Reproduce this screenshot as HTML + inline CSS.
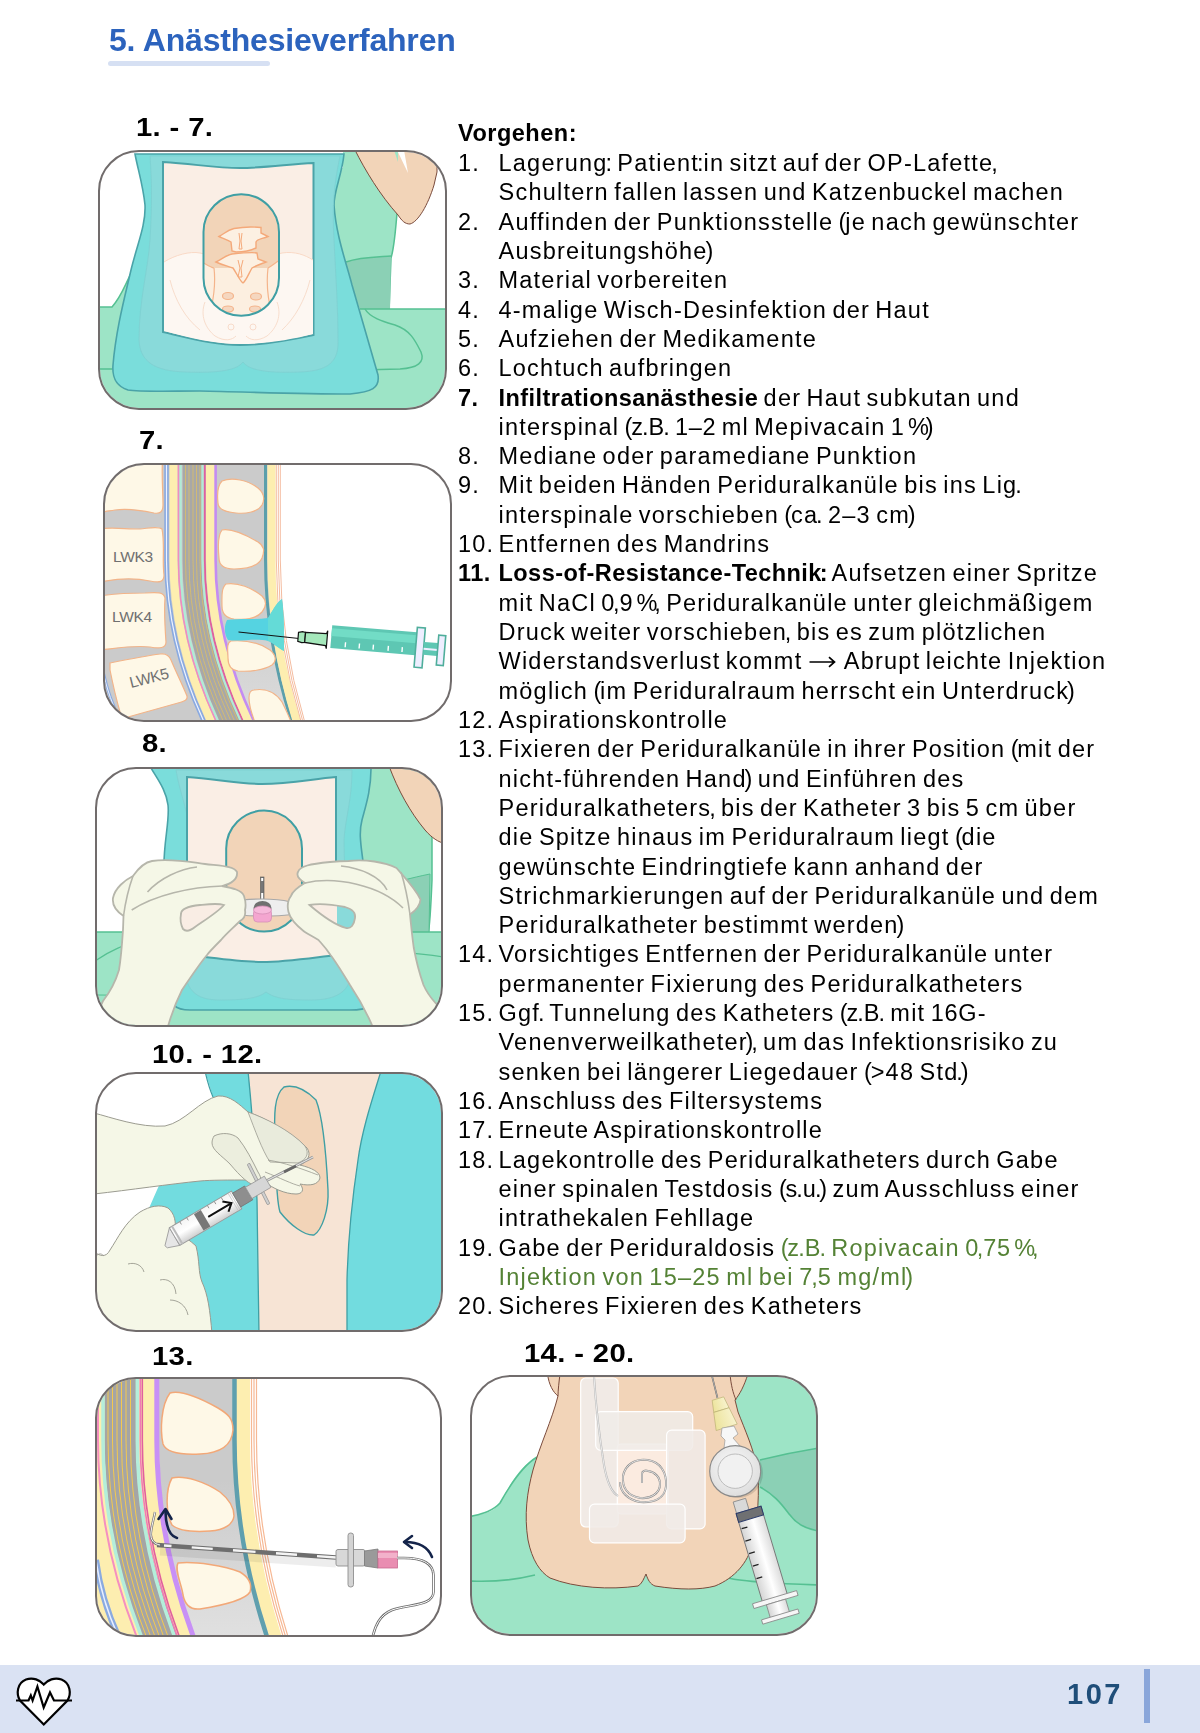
<!DOCTYPE html>
<html><head><meta charset="utf-8">
<style>
html,body{margin:0;padding:0;background:#fff;}
body{width:1200px;height:1733px;position:relative;overflow:hidden;font-family:"Liberation Sans",sans-serif;color:#000;-webkit-font-smoothing:antialiased;}
#txt,#vg,.cap,.h1,.pn{will-change:transform;}
.h1{position:absolute;left:109px;top:22px;font-size:32px;font-weight:bold;color:#2c63bd;white-space:nowrap;letter-spacing:-0.2px;}
.h1bar{position:absolute;left:108px;top:61px;width:162px;height:4.5px;border-radius:3px;background:#d6e0f3;}
.cap{position:absolute;font-weight:bold;font-size:25px;white-space:nowrap;letter-spacing:0.3px;word-spacing:0px;margin-top:1px;transform:scaleX(1.17);transform-origin:0 0;}
.frame{position:absolute;border:2px solid #6b6b6b;border-radius:40px;overflow:hidden;box-sizing:border-box;background:#fff;}
.frame svg{position:absolute;left:0;top:0;}
#txt{position:absolute;left:458px;top:149px;font-size:23.5px;line-height:29.32px;letter-spacing:1.23px;word-spacing:-2.43px;white-space:nowrap;}
#txt .q{letter-spacing:0px;margin-left:-2.2px;}
#txt .qo{letter-spacing:-1.2px;}
#txt .n .q{letter-spacing:1.23px;margin-left:0;}
#txt b{letter-spacing:0.45px;}
.pc{letter-spacing:-1px;margin-left:-2px;}
.dg{letter-spacing:0.7px;}
#txt .r{position:relative;padding-left:40.5px;}
#txt .n{position:absolute;left:0;top:0;}
.g{color:#548235;}
#vg{position:absolute;left:458px;top:119.5px;font-size:23.5px;font-weight:bold;letter-spacing:0.5px;}
.foot{position:absolute;left:0;top:1665px;width:1200px;height:67.5px;background:#dae2f3;}
.pn{position:absolute;left:1067px;top:1678px;font-size:29px;font-weight:bold;color:#1f4e79;letter-spacing:2.5px;}
.vbar{position:absolute;left:1144px;top:1669px;width:6px;height:54px;background:#8aa6da;}
</style></head><body>
<div class="h1">5. Anästhesieverfahren</div>
<div class="h1bar"></div>

<div class="cap" style="left:136px;top:112px">1. - 7.</div>
<div class="cap" style="left:139px;top:425px">7.</div>
<div class="cap" style="left:142px;top:728px">8.</div>
<div class="cap" style="left:152px;top:1039px">10. - 12.</div>
<div class="cap" style="left:152px;top:1341px">13.</div>
<div class="cap" style="left:524px;top:1338px">14. - 20.</div>

<!-- FRAMES -->
<svg style="position:absolute;left:97px;top:149px" width="351" height="262" viewBox="97 149 351 262">
<defs><clipPath id="cA"><rect x="100" y="152" width="345" height="256" rx="39"/></clipPath></defs>
<g clip-path="url(#cA)">
<rect x="97" y="149" width="351" height="262" fill="#fff"/>
<!-- green body right -->
<path d="M343,150 L398,150 L398,200 C396,225 395,245 391,258 L389,312 L325,312 L325,170 L343,168 Z" fill="#9de4c6"/>
<path d="M398,150 L398,200 C396,225 395,245 391,258 L389,312" fill="none" stroke="#55c092" stroke-width="1.5"/>
<path d="M346,262 C360,257 378,257 391,256 L390,312 L350,312 Z" fill="#8bd0b5"/>
<path d="M346,262 C360,257 378,257 391,256" fill="none" stroke="#55c092" stroke-width="1.5"/>
<!-- green table / lower -->
<path d="M97,307 L112,307 C122,296 126,282 132,272 L150,250 L340,250 L360,309 L448,309 L448,411 L97,411 Z" fill="#9de4c6"/>
<path d="M97,307 L112,307 C122,296 126,282 132,272 L145,258" fill="none" stroke="#55c092" stroke-width="1.5"/>
<path d="M360,309 L448,309" fill="none" stroke="#55c092" stroke-width="1.5"/>
<path d="M365,309 C370,318 385,322 395,325 C410,330 415,340 421,352 C425,362 418,368 400,369 L360,370" fill="none" stroke="#55c092" stroke-width="1.5"/>
<path d="M97,369 L150,369" fill="none" stroke="#55c092" stroke-width="1.5"/>
<!-- arm -->
<path d="M355,150 C365,170 380,195 398,215 C402,221 405,224 410,224 C418,222 428,205 434,185 L437,172 L437,150 Z" fill="#f2d4b8" stroke="#7a4b3c" stroke-width="1"/>
<path d="M397,150 L404,150 L408,173 Z" fill="#fff"/>
<path d="M394,150 L398,150 L398,162 Z" fill="#9de4c6"/>
<!-- drape outer -->
<path d="M135,154 L344,154 C342,175 334,190 334,205 C336,235 346,262 352,285 C362,320 372,355 378,375 C380,388 372,392 350,394 C300,394 250,392 200,391 C170,391 140,392 128,390 C116,386 112,378 113,365 C116,330 124,300 131,270 C137,245 146,225 145,205 C143,185 138,170 135,154 Z" fill="#7adddb" stroke="#4aa3a8" stroke-width="1.6"/>
<!-- inner darker layer -->
<path d="M150,156 L340,156 C334,185 332,205 334,240 C336,280 338,310 338,340 C339,362 328,371 300,372 C275,373 250,372 243,362 C236,372 210,373 185,372 C155,371 140,362 139,340 C139,300 148,270 150,240 C152,205 152,185 150,156 Z" fill="#89dada" stroke="#7fcfd0" stroke-width="0.8"/>
<!-- cream window -->
<path d="M163,162 C195,164 215,168 240,168 C265,168 290,164 313.5,163 L313.5,335 C290,340 265,345 240,345 C215,345 190,338 163,332 Z" fill="#faeee5" stroke="#4aa3a8" stroke-width="2"/>
<!-- pelvis lighter -->
<path d="M164,262 C175,255 190,251 200,253 C215,256 222,262 241,262 C260,262 268,256 282,253 C295,251 305,255 313,260 L313,334 C290,340 265,344 240,344 C215,344 190,338 164,331 Z" fill="#fdf7f2"/>
<path d="M164,262 C175,255 190,251 200,253 C215,256 222,262 241,262 C260,262 268,256 282,253 C295,251 305,255 313,260" fill="none" stroke="#f9d9c6" stroke-width="1"/>
<g fill="none" stroke="#f8ddcc" stroke-width="1">
<path d="M205,302 C200,315 205,328 215,336 C225,342 232,340 236,336"/>
<path d="M277,302 C282,315 277,328 267,336 C257,342 250,340 246,336"/>
<path d="M170,280 C175,300 185,318 200,330"/>
<path d="M310,280 C305,300 295,318 282,330"/>
</g>
<circle cx="231" cy="327" r="3" fill="none" stroke="#f8dccb" stroke-width="1"/>
<circle cx="253" cy="327" r="3" fill="none" stroke="#f8dccb" stroke-width="1"/>
<!-- oval hole -->
<path d="M203.5,232 A37.75,37.75 0 0 1 279,232 L279,278 A37.75,37.75 0 0 1 203.5,278 Z" fill="#f2d4b8"/>
<clipPath id="cOv"><path d="M203.5,232 A37.75,37.75 0 0 1 279,232 L279,278 A37.75,37.75 0 0 1 203.5,278 Z"/></clipPath>
<g clip-path="url(#cOv)">
<path d="M200,261 C206,264 210,267 214,268 L268,268 C272,266 276,262 283,258 L283,320 L200,320 Z" fill="#fcefe0"/>
<path d="M200,261 C206,264 210,267 214,268 M268,268 C272,266 276,262 283,258" fill="none" stroke="#f4b48b" stroke-width="1.2"/>
<path d="M214,268 C216,285 213,300 210,315 M268,268 C266,285 268,300 272,315" fill="none" stroke="#f4b48b" stroke-width="1.2"/>
<ellipse cx="228" cy="296" rx="5.5" ry="3.5" fill="#f5d7c0" stroke="#f4b48b" stroke-width="1.2"/>
<ellipse cx="256" cy="296.5" rx="5.5" ry="3.5" fill="#f5d7c0" stroke="#f4b48b" stroke-width="1.2"/>
<ellipse cx="228" cy="309" rx="5.5" ry="3" fill="#f5d7c0" stroke="#f4b48b" stroke-width="1.2"/>
<ellipse cx="255" cy="309" rx="5.5" ry="3" fill="#f5d7c0" stroke="#f4b48b" stroke-width="1.2"/>
<path d="M216,262 C221,260 226,255 232,254 C242,253 252,252 257,253 L258,259 L266,262 C258,265 255,266 252,268 C249,273 246,281 243,283 C240,281 237,274 233,268 C227,266 222,265 216,262 Z" fill="#fcf0e2" stroke="#f4a97a" stroke-width="1.4"/>
<path d="M219,236.5 C224,234 227,230 234,228.5 C242,227 252,226.5 261,227.5 L261,233 L268,236.5 C262,239 257,239 256,242 L256,248 C250,251 243,252 236,252 L232,251 L231,242 C226,239 222,238 219,236.5 Z" fill="#fcf0e2" stroke="#f4a97a" stroke-width="1.4"/>
<path d="M239,233 L240,241 L239,249 L242,249 L241,241 L242,233 M238,260 L240,268 L238,277 L242,277 L241,268 L243,260" fill="none" stroke="#f4a97a" stroke-width="1"/>
</g>
<path d="M203.5,232 A37.75,37.75 0 0 1 279,232 L279,278 A37.75,37.75 0 0 1 203.5,278 Z" fill="none" stroke="#3f9fa4" stroke-width="2"/>
</g>
<rect x="99" y="151" width="347" height="258" rx="40" fill="none" stroke="#716c6c" stroke-width="2"/>
</svg>

<svg style="position:absolute;left:102px;top:462px" width="352" height="261" viewBox="102 462 352 261">
<defs><clipPath id="cB"><rect x="105" y="465" width="345" height="255" rx="39"/></clipPath><linearGradient id="gB" gradientUnits="userSpaceOnUse" x1="0" y1="600" x2="0" y2="721"><stop offset="0" stop-color="#cbcbcb"/><stop offset="1" stop-color="#dcdcdc"/></linearGradient></defs>
<g clip-path="url(#cB)">
<rect x="102" y="462" width="352" height="261" fill="#fff"/>
<path d="M100,455 L268,455 L268,560 Q268,640.5 293.49333333333334,721 L299.8666666666667,745 L100,745 Z" fill="#cbcbcb"/>
<path d="M241,455 L241,560 Q241,640.5 273.05,721 L281.0625,745" fill="none" stroke="url(#gB)" stroke-width="50" />
<path d="M100,455 L163,455 C161,470 163,490 163,505 C163,512 160,514 154,513 C140,510 128,508 115,510 C108,511 104,512 100,512 Z" fill="#fef8e7" stroke="#f2b489" stroke-width="1.2"/>
<path d="M100,529 C110,527 125,529 140,529 C150,528 158,526 162,529 C165,545 162,560 164,575 C164,582 160,583 150,581 C135,578 120,578 100,582 Z" fill="#fef8e7" stroke="#f2b489" stroke-width="1.2"/>
<path d="M100,596 C112,594 130,593 145,593 C157,592 164,592 165,598 C164,612 165,628 166,642 C166,648 160,649 150,647 C135,645 118,648 100,650 Z" fill="#fef8e7" stroke="#f2b489" stroke-width="1.2"/>
<path d="M110,663 C125,660 145,656 160,654 C166,653 169,655 171,660 C176,672 182,684 187,696 C188,700 185,701 178,703 C160,708 142,713 128,717 C124,718 122,716 120,712 C116,698 112,680 110,670 Z" fill="#fef8e7" stroke="#f2b489" stroke-width="1.2"/>
<path d="M101,660 C104,680 110,700 120,720" fill="none" stroke="#8aaae0" stroke-width="3"/>
<path d="M101,660 C104,680 110,700 120,720" fill="none" stroke="#e8efff" stroke-width="1"/>
<path d="M166.5,455 L166.5,560 Q166.5,640.5 203.67727272727274,721 L212.9715909090909,745" fill="none" stroke="#8aaae0" stroke-width="4.5" />
<path d="M166.5,455 L166.5,560 Q166.5,640.5 203.67727272727274,721 L212.9715909090909,745" fill="none" stroke="#eef3ff" stroke-width="1.2" />
<path d="M173.5,455 L173.5,560 Q173.5,640.5 210.86818181818182,721 L220.21022727272728,745" fill="none" stroke="#fdeeb0" stroke-width="8" />
<path d="M178.5,455 L178.5,560 Q178.5,640.5 216.00454545454545,721 L225.3806818181818,745" fill="none" stroke="#f08cc0" stroke-width="1.6" />
<path d="M180.6,455 L180.6,560 Q180.6,640.5 218.16181818181818,721 L227.55227272727274,745" fill="none" stroke="#b0ecd6" stroke-width="2.2" />
<path d="M192,455 L192,560 Q192,640.5 229.87272727272727,721 L239.3409090909091,745" fill="none" stroke="#a8a8a8" stroke-width="19" />
<path d="M202.5,455 L202.5,560 Q202.5,640.5 240.6590909090909,721 L250.19886363636363,745" fill="none" stroke="#b0ecd6" stroke-width="2" />
<path d="M204.8,455 L204.8,560 Q204.8,640.5 243.0218181818182,721 L252.57727272727274,745" fill="none" stroke="#e0609e" stroke-width="1.8" />
<path d="M210.5,455 L210.5,560 Q210.5,640.5 248.87727272727273,721 L258.4715909090909,745" fill="none" stroke="#fdeeb0" stroke-width="9" />
<path d="M215.6,455 L215.6,560 Q215.6,640.5 253.95115384615383,721 L263.5389423076923,745" fill="none" stroke="#c48cf2" stroke-width="2.6" />
<path d="M265.5,455 L265.5,560 Q265.5,640.5 291.4721153846154,721 L297.9651442307692,745" fill="none" stroke="#5b9fab" stroke-width="3" />
<path d="M271.5,455 L271.5,560 Q271.5,640.5 296.62,721 L302.9,745" fill="none" stroke="#fdeeb0" stroke-width="8" />
<path d="M276.3,455 L276.3,560 Q276.3,640.5 300.908,721 L307.06,745" fill="none" stroke="#f4bca0" stroke-width="1" />
<path d="M278.3,455 L278.3,560 Q278.3,640.5 302.69466666666665,721 L308.79333333333335,745" fill="none" stroke="#f4bca0" stroke-width="1" />
<path d="M280.3,455 L280.3,560 Q280.3,640.5 304.48133333333334,721 L310.5266666666667,745" fill="none" stroke="#f4bca0" stroke-width="1" />
<path d="M185.5,455 L185.5,560 Q185.5,640.5 223.19545454545454,721 L232.6193181818182,745" fill="none" stroke="#f0c850" stroke-width="0.7" opacity="0.85"/>
<path d="M189,455 L189,560 Q189,640.5 226.79090909090908,721 L236.23863636363637,745" fill="none" stroke="#f0c850" stroke-width="0.7" opacity="0.85"/>
<path d="M193,455 L193,560 Q193,640.5 230.9,721 L240.375,745" fill="none" stroke="#f0c850" stroke-width="0.7" opacity="0.85"/>
<path d="M196.5,455 L196.5,560 Q196.5,640.5 234.49545454545455,721 L243.9943181818182,745" fill="none" stroke="#f0c850" stroke-width="0.7" opacity="0.85"/>
<path d="M200,455 L200,560 Q200,640.5 238.0909090909091,721 L247.61363636363637,745" fill="none" stroke="#f0c850" stroke-width="0.7" opacity="0.85"/>
<path d="M222,481 C232,477 248,480 258,488 C264,493 265,499 262,505 C258,512 246,514 236,513 C225,512 218,509 218,503 C217,494 218,485 222,481 Z" fill="#fef8e7" stroke="#f2b489" stroke-width="1.2"/>
<path d="M222,530 C232,528 246,535 258,542 C264,546 265,550 262,558 C258,567 246,569 234,569 C224,569 219,566 219,558 C218,548 218,535 222,530 Z" fill="#fef8e7" stroke="#f2b489" stroke-width="1.2"/>
<path d="M226,584 C238,582 252,588 262,596 C267,601 266,607 262,612 C256,619 244,620 234,619 C226,618 222,614 222,606 C222,598 221,588 226,584 Z" fill="#fef8e7" stroke="#f2b489" stroke-width="1.2"/>
<path d="M231,641 C245,640 260,643 270,650 C276,655 277,661 272,665 C264,670 250,672 238,671 C230,670 228,665 228,658 C228,651 226,643 231,641 Z" fill="#fef8e7" stroke="#f2b489" stroke-width="1.2"/>
<path d="M254,690 C266,688 276,693 282,702 C286,710 290,718 292,725 L256,725 C252,715 249,705 249,698 C249,693 251,690 254,690 Z" fill="#fef8e7" stroke="#f2b489" stroke-width="1.2"/>
<path d="M227,620 C240,618 255,620 268,618 C272,612 276,603 282,599 C284,615 284,630 284,651 C278,648 272,642 268,641 C255,638 240,642 228,640 C224,634 224,626 227,620 Z" fill="#55d3e1"/>
<path d="M268,618 C272,612 276,603 282,599 C284,615 284,630 284,651 C278,648 272,642 268,641 Z" fill="#66dcd6" opacity="0.9"/>
<path d="M238.5,632 L299,638.5" stroke="#111" stroke-width="1"/>
<g transform="rotate(4.8 330 640)">
<path d="M298,635 L302,634 L305,634.5 L305,644.5 L302,645 L298,644 Z" fill="#a5e8bb" stroke="#111" stroke-width="1.2"/>
<path d="M305,634.5 L326,634 L327,631 L327,649 L326,646 L305,644.5 Z" fill="#a5e8bb" stroke="#111" stroke-width="1.2"/>
<rect x="331" y="625" width="88" height="23" fill="#5ec7b3"/>
<rect x="331" y="628" width="88" height="8" fill="#72dcc6"/>
<rect x="345" y="641" width="1.4" height="5" fill="#fff"/>
<rect x="359" y="641" width="1.4" height="5" fill="#fff"/>
<rect x="373" y="641" width="1.4" height="5" fill="#fff"/>
<rect x="388" y="641" width="1.4" height="5" fill="#fff"/>
<rect x="402" y="641" width="1.4" height="5" fill="#fff"/>
<rect x="416" y="620" width="8" height="40" fill="#eef" stroke="#4fae9b" stroke-width="1.6"/>
<rect x="424" y="634" width="14" height="13" fill="#5ec7b3"/>
<rect x="424" y="640" width="14" height="2" fill="#eef"/>
<rect x="438" y="626" width="7" height="30" fill="#eef" stroke="#4fae9b" stroke-width="1.6"/>
</g>
<text x="113" y="562" font-family="Liberation Sans" font-size="15.5" fill="#707070" letter-spacing="-0.3">LWK3</text>
<text x="112" y="622" font-family="Liberation Sans" font-size="15.5" fill="#707070" letter-spacing="-0.3">LWK4</text>
<text x="0" y="0" font-family="Liberation Sans" font-size="15.5" fill="#707070" letter-spacing="-0.3" transform="translate(131,688) rotate(-14)">LWK5</text>
</g>
<rect x="104" y="464" width="347" height="257" rx="40" fill="none" stroke="#716c6c" stroke-width="2"/>
</svg>
<svg style="position:absolute;left:94px;top:766px" width="350" height="263" viewBox="94 766 350 263">
<defs><clipPath id="cC"><rect x="97" y="769" width="344" height="256" rx="39"/></clipPath></defs>
<g clip-path="url(#cC)">
<rect x="94" y="766" width="350" height="263" fill="#fff"/>
<!-- right green body -->
<path d="M360,766 L432,766 L432,880 C431,905 430,925 428,935 L360,935 Z" fill="#9de4c6" stroke="#55c092" stroke-width="1.5"/>
<path d="M404,880 C412,878 420,876 430,874 L429,935 L406,935 Z" fill="#8bd0b5" stroke="#55c092" stroke-width="1"/>
<!-- lower green table -->
<path d="M94,932 L444,932 L444,1030 L94,1030 Z" fill="#9de4c6"/>
<path d="M94,932 L444,932" stroke="#55c092" stroke-width="1.5"/>
<path d="M94,962 C110,950 125,945 140,940" fill="none" stroke="#55c092" stroke-width="1.2"/>
<path d="M330,948 C360,950 400,950 444,957" fill="none" stroke="#55c092" stroke-width="1.2"/>
<path d="M94,995 C130,995 170,996 200,998" fill="none" stroke="#55c092" stroke-width="1.2"/>
<!-- arm -->
<path d="M389,766 C398,790 410,812 425,830 C432,838 438,842 446,844 L446,766 Z" fill="#f2d4b8" stroke="#7a4b3c" stroke-width="1"/>
<!-- drape -->
<path d="M151,768 L371,768 C371,790 366,805 362,820 C358,835 362,850 364,870 C366,900 368,950 372,990 C374,1008 368,1010 350,1010 L190,1010 C175,1010 170,1005 170,990 C168,950 166,905 164,870 C163,845 170,820 168,805 C166,790 158,780 151,768 Z" fill="#7adddb" stroke="#4aa3a8" stroke-width="1.6"/>
<path d="M176,770 L352,770 C352,800 345,820 344,840 C344,880 350,920 352,960 C354,990 340,1000 310,1000 C290,1000 275,999 266,992 C258,999 240,1000 220,1000 C195,1000 184,990 184,960 C184,920 190,880 190,840 C190,815 180,795 176,770 Z" fill="#89dada" stroke="#7fcfd0" stroke-width="0.8"/>
<!-- cream window -->
<path d="M187,777 C215,779 240,784 262,784 C290,784 312,779 336,777 L336,955 C310,958 285,962 262,962 C240,962 215,958 187,955 Z" fill="#faeee5" stroke="#4aa3a8" stroke-width="2"/>
<!-- oval -->
<path d="M226.2,848.5 A37.9,37.9 0 0 1 302,848.5 L302,893.7 A37.9,37.9 0 0 1 226.2,893.7 Z" fill="#f2d4b8" stroke="#3f9fa4" stroke-width="2"/>
<!-- needle -->
<rect x="260.5" y="877" width="3.5" height="24" fill="#777" stroke="#555" stroke-width="0.6"/>
<rect x="261.2" y="878" width="2" height="3" fill="#fff"/>
<rect x="261.2" y="893" width="2" height="8" fill="#fff"/>
<!-- hub wings -->
<path d="M222,908 C226,902 240,899 262,899 C285,899 300,903 300,909 C300,915 285,916 262,916 C240,916 226,914 222,908 Z" fill="#eeeeee" stroke="#a8a8a8" stroke-width="1.2"/>
<ellipse cx="262.5" cy="908" rx="9" ry="7" fill="#707070"/>
<rect x="253.5" y="909" width="18" height="13" rx="4" fill="#f4a6d0" stroke="#d58fb8" stroke-width="0.8"/>
<ellipse cx="262.5" cy="910" rx="9" ry="4" fill="#f7b9db" stroke="#d58fb8" stroke-width="0.8"/>
<!-- left glove -->
<path d="M96,1030 L96,1015 C100,1008 102,1003 103,1001 C110,992 116,980 119,970 C121,958 122,945 123,930 L123.5,916 C116,911 112,905 113,898 C115,888 125,880 133,876 C140,866 146,862 152,861 C170,858 190,862 205,864 C222,866 234,866 237,872 C238,880 230,884 222,886 C232,888 242,890 244,896 C246,902 246,906 245,910 C246,916 244,919 240,921 C233,928 226,934 221,940 C215,946 210,951 207,955 C198,966 190,978 182,990 C176,1002 171,1015 167,1030 Z" fill="#f5f7e7" stroke="#b6b6ab" stroke-width="1.8"/>
<path d="M181,914 C181,908 190,906 200,905 C210,904 218,903 224,905 C218,912 205,920 195,927 C190,931 186,932 183,929 C181,925 180,919 181,914 Z" fill="#f9ede4" stroke="#b6b6ab" stroke-width="1.8"/>
<path d="M147.5,892 C160,878 180,869 197,867 M131.7,910 C155,895 190,887 222.5,886 M133,876 C128,890 125,905 123.5,916" fill="none" stroke="#b6b6ab" stroke-width="1.6"/>
<!-- right glove -->
<path d="M374,1030 C368,1015 360,1000 350,985 C342,972 336,962 330.5,955 C326,948 322,944 318.5,940 C312,936 306,933 303.5,931 C296,925 290,918 288.5,912 C287,906 288,900 291,896 C293,890 300,886 305,883 C300,880 296,876 298,872 C300,866 310,864 330,862 C340,861 345,861 348.5,861 C365,859 385,862 396.5,868 C405,878 415,888 420.5,899.5 C420,906 415,911 410,914.5 C411,925 412,935 413.7,947.5 C416,960 420,975 423.5,985 C427,993 431,998 435.5,1003 L446,1012 L446,1030 Z" fill="#f5f7e7" stroke="#b6b6ab" stroke-width="1.8"/>
<clipPath id="hR"><path d="M309.5,905 C320,903 335,905 345,907 C352,909 356,912 355,918 C354,925 351,929 346,928 C335,925 320,914 309.5,905 Z"/></clipPath>
<g clip-path="url(#hR)"><rect x="300" y="900" width="37" height="35" fill="#f9ede4"/><rect x="337" y="900" width="25" height="35" fill="#89dada"/></g>
<path d="M309.5,905 C320,903 335,905 345,907 C352,909 356,912 355,918 C354,925 351,929 346,928 C335,925 320,914 309.5,905 Z" fill="none" stroke="#b6b6ab" stroke-width="1.8"/>
<path d="M341,866 C360,868 380,876 387,890 M305,883 C335,876 380,885 403,908 M401,872 C405,885 408,900 410,914.5" fill="none" stroke="#b6b6ab" stroke-width="1.6"/>
</g>
<rect x="96" y="768" width="346" height="258" rx="40" fill="none" stroke="#716c6c" stroke-width="2"/>
</svg>

<svg style="position:absolute;left:94px;top:1071px" width="350" height="263" viewBox="94 1071 350 263">
<defs><clipPath id="cD"><rect x="97" y="1074" width="344" height="256" rx="39"/></clipPath>
<linearGradient id="syrD" x1="0" y1="0" x2="0" y2="1"><stop offset="0" stop-color="#f4f4f4"/><stop offset="0.5" stop-color="#ffffff"/><stop offset="1" stop-color="#cfcfcf"/></linearGradient>
<linearGradient id="gloveD" x1="0" y1="0" x2="1" y2="1"><stop offset="0" stop-color="#f0f1e4"/><stop offset="1" stop-color="#e4e6d8"/></linearGradient>
</defs>
<g clip-path="url(#cD)">
<rect x="94" y="1071" width="350" height="263" fill="#fff"/>
<!-- teal left region -->
<path d="M205,1071 L260,1071 L260,1334 L150,1334 L120,1260 L150,1206 C170,1160 190,1120 213,1097 Z" fill="#72dcdf"/>
<path d="M205,1071 C207,1080 210,1090 213,1097" fill="none" stroke="#3f9fa4" stroke-width="1.2"/>
<!-- right teal -->
<rect x="340" y="1071" width="104" height="263" fill="#72dcdf"/>
<!-- skin strip -->
<path d="M248,1071 L381,1071 C372,1100 362,1130 358,1160 C352,1200 348,1240 347,1280 L347,1334 L259,1334 C258,1290 258,1240 257,1200 C255,1150 252,1110 248,1071 Z" fill="#f7e4d5" stroke="#3f9fa4" stroke-width="1.3"/>
<!-- dark patch -->
<path d="M284,1087 C296,1084 308,1092 316,1100 C322,1115 326,1150 328,1190 C329,1210 322,1230 314,1235 C305,1236 290,1225 280,1212 C276,1200 276,1170 275,1140 C274,1115 274,1095 284,1087 Z" fill="#f2d4b8" stroke="#3f9fa4" stroke-width="1.4"/>
<!-- upper glove -->
<path d="M94,1113 C110,1117 140,1128 165,1126 C185,1122 200,1100 218,1096 C230,1095 240,1105 248,1112 C270,1120 295,1135 307,1148 C312,1155 307,1162 300,1165 C312,1168 320,1172 320,1178 C318,1185 310,1186 300,1184 C305,1190 302,1194 296,1194 C285,1194 272,1188 265,1182 L248,1180 C230,1180 210,1180 200,1181 C170,1184 130,1190 94,1194 Z" fill="#f5f7e7" stroke="#9b9b90" stroke-width="1"/>
<path d="M248,1112 C265,1118 290,1130 305,1146 C310,1154 306,1160 298,1163 L270,1162 C262,1150 255,1130 248,1112 Z" fill="#e9ebdc" stroke="#9b9b90" stroke-width="0.8"/>
<path d="M268,1160 C285,1163 300,1168 318,1175 M265,1172 C280,1178 292,1184 300,1186" fill="none" stroke="#9b9b90" stroke-width="0.8"/>
<!-- thumb -->
<path d="M214,1136 C222,1132 232,1133 238,1138 C246,1148 252,1160 258,1172 C262,1178 262,1184 258,1186 C250,1186 240,1176 230,1164 C222,1156 212,1150 212,1143 C212,1140 213,1138 214,1136 Z" fill="#eceede" stroke="#9b9b90" stroke-width="0.9"/>
<!-- lower glove -->
<path d="M94,1252 C100,1256 106,1258 110,1250 C118,1238 125,1222 140,1212 C150,1206 160,1204 168,1208 C175,1214 176,1222 175,1230 C182,1236 190,1240 196,1246 C200,1262 198,1272 202,1282 C208,1295 210,1310 212,1334 L94,1334 Z" fill="#f5f7e7" stroke="#9b9b90" stroke-width="1"/>
<path d="M128,1264 C135,1262 142,1265 144,1272 M160,1280 C167,1278 175,1282 176,1294 M170,1300 C178,1300 186,1305 188,1315" fill="none" stroke="#9b9b90" stroke-width="0.9"/>
<path d="M94,1258 C98,1254 100,1252 104,1256" fill="none" stroke="#9b9b90" stroke-width="0.8"/>
<!-- needle -->
<path d="M266,1181 L313,1157" stroke="#9a9a9a" stroke-width="2.6"/>
<path d="M266,1181 L313,1157" stroke="#e8e8e8" stroke-width="1"/>
<path d="M284,1172 L296,1166" stroke="#666" stroke-width="2.6"/>
<!-- hub & wings -->
<path d="M249,1165 L268,1203" stroke="#9a9a9a" stroke-width="3.6" stroke-linecap="round"/>
<path d="M249,1165 L268,1203" stroke="#d0d0d0" stroke-width="2" stroke-linecap="round"/>
<g transform="translate(181.5,1232.5) rotate(-30.5)">
<path d="M-8,-10.25 L-8,10.25 L-20,6 L-21,3 Z" fill="#e6e6e6" stroke="#9a9a9a" stroke-width="0.8"/>
<rect x="-8" y="-10.25" width="72" height="20.5" fill="url(#syrD)" stroke="#9a9a9a" stroke-width="0.9"/>
<rect x="-6" y="-10.25" width="2" height="20.5" fill="#bbb"/>
<rect x="20" y="-9.5" width="8" height="19" fill="#777"/>
<path d="M31,0 L58,0 M51,-6 L58,0 L51,6" fill="none" stroke="#111" stroke-width="2"/>
<path d="M4,-10 L4,-7 M12,-10 L12,-7 M36,-10 L36,-7 M44,-10 L44,-7 M52,-10 L52,-7" stroke="#777" stroke-width="0.7"/>
<path d="M60,-10 L60,10 M62,-10 L62,10" stroke="#bbb" stroke-width="0.6"/>
<rect x="64" y="-8" width="14" height="16" fill="#8e8e8e" stroke="#777" stroke-width="0.8"/>
<rect x="78" y="-6.5" width="22" height="13" fill="#d6d6d6" stroke="#9a9a9a" stroke-width="0.8"/>
</g>
</g>
<rect x="96" y="1073" width="346" height="258" rx="40" fill="none" stroke="#716c6c" stroke-width="2"/>
</svg>

<svg style="position:absolute;left:94px;top:1376px" width="349" height="262" viewBox="94 1376 349 262">
<defs><clipPath id="cE"><rect x="97" y="1379" width="343" height="256" rx="39"/></clipPath><linearGradient id="gE" gradientUnits="userSpaceOnUse" x1="0" y1="1480" x2="0" y2="1636"><stop offset="0" stop-color="#cbcbcb"/><stop offset="1" stop-color="#e0e0e0"/></linearGradient></defs>
<g clip-path="url(#cE)">
<rect x="94" y="1376" width="349" height="262" fill="#fff"/>
<path d="M90,1370 L250,1370 L250,1440 Q250,1540.0 282.87,1640 L286.16,1660 L90,1660 Z" fill="#fdeeb0"/>
<path d="M196,1370 L196,1440 Q196,1540.0 231.63,1640 L235.19,1660" fill="none" stroke="url(#gE)" stroke-width="74" />
<path d="M121.5,1370 L121.5,1440 Q121.5,1540.0 160.61,1640 L164.52,1660" fill="none" stroke="#a5a5a5" stroke-width="34" />
<path d="M108,1370 L108,1440 Q108,1540.0 147.60,1640 L151.57,1660" fill="none" stroke="#f4c94e" stroke-width="1.0" />
<path d="M112.5,1370 L112.5,1440 Q112.5,1540.0 151.94,1640 L155.88,1660" fill="none" stroke="#f4c94e" stroke-width="1.0" />
<path d="M117,1370 L117,1440 Q117,1540.0 156.27,1640 L160.20,1660" fill="none" stroke="#f4c94e" stroke-width="1.0" />
<path d="M121.5,1370 L121.5,1440 Q121.5,1540.0 160.61,1640 L164.52,1660" fill="none" stroke="#f4c94e" stroke-width="1.0" />
<path d="M126,1370 L126,1440 Q126,1540.0 164.94,1640 L168.83,1660" fill="none" stroke="#f4c94e" stroke-width="1.0" />
<path d="M130.5,1370 L130.5,1440 Q130.5,1540.0 169.27,1640 L173.15,1660" fill="none" stroke="#f4c94e" stroke-width="1.0" />
<path d="M98,1370 L98,1440 Q98,1540.0 137.97,1640 L141.97,1660" fill="none" stroke="#f58fc0" stroke-width="2" />
<path d="M103,1370 L103,1440 Q103,1540.0 142.79,1640 L146.77,1660" fill="none" stroke="#b4eedb" stroke-width="3.5" />
<path d="M137.3,1370 L137.3,1440 Q137.3,1540.0 175.82,1640 L179.68,1660" fill="none" stroke="#b4eedb" stroke-width="3.5" />
<path d="M140.3,1370 L140.3,1440 Q140.3,1540.0 178.71,1640 L182.55,1660" fill="none" stroke="#f07cb4" stroke-width="1.6" />
<path d="M142.3,1370 L142.3,1440 Q142.3,1540.0 180.64,1640 L184.47,1660" fill="none" stroke="#e0609e" stroke-width="1.6" />
<path d="M156.8,1370 L156.8,1440 Q156.8,1540.0 194.57,1640 L198.35,1660" fill="none" stroke="#c890f6" stroke-width="5" />
<path d="M234.5,1370 L234.5,1440 Q234.5,1540.0 268.05,1640 L271.41,1660" fill="none" stroke="#5f9fae" stroke-width="4.5" />
<path d="M251.5,1370 L251.5,1440 Q251.5,1540.0 284.31,1640 L287.59,1660" fill="none" stroke="#f6b894" stroke-width="1.2" />
<path d="M254,1370 L254,1440 Q254,1540.0 286.70,1640 L289.97,1660" fill="none" stroke="#f6b894" stroke-width="1.2" />
<path d="M256.5,1370 L256.5,1440 Q256.5,1540.0 289.11,1640 L292.37,1660" fill="none" stroke="#f6b894" stroke-width="1.2" />
<path d="M96,1560 C100,1590 108,1615 120,1640" fill="none" stroke="#8aaae0" stroke-width="6"/>
<path d="M96,1560 C100,1590 108,1615 120,1640" fill="none" stroke="#e8efff" stroke-width="1.5"/>
<path d="M170,1393 C180,1390 200,1398 218,1408 C228,1414 233,1418 233,1430 C232,1445 222,1453 200,1454 C180,1455 166,1452 163,1444 C160,1430 161,1405 170,1393 Z" fill="#fef8e7" stroke="#f2a878" stroke-width="1.5"/>
<path d="M172,1478 C185,1475 205,1482 220,1492 C230,1500 234,1508 234,1516 C233,1524 225,1530 210,1531 C195,1532 180,1532 172,1525 C166,1515 165,1490 172,1478 Z" fill="#fef8e7" stroke="#f2a878" stroke-width="1.5"/>
<path d="M178,1563 C195,1561 225,1566 240,1572 C250,1578 252,1585 250,1592 C245,1600 225,1605 200,1609 C190,1610 185,1605 183,1595 C182,1585 174,1570 178,1563 Z" fill="#fef8e7" stroke="#f2a878" stroke-width="1.5"/>
<path d="M160,1551 L336,1563" stroke="#000" stroke-opacity="0.07" stroke-width="9"/>
<path d="M157,1545 L336,1557.5" stroke="#6e6e6e" stroke-width="4.4"/>
<path d="M164,1545.49 L171.5,1546.01" stroke="#f4f4f4" stroke-width="2.4"/>
<path d="M191.7,1547.42 L212.7,1548.89" stroke="#f4f4f4" stroke-width="2.4"/>
<path d="M233,1550.30 L255.5,1551.88" stroke="#f4f4f4" stroke-width="2.4"/>
<path d="M276,1553.31 L297,1554.77" stroke="#f4f4f4" stroke-width="2.4"/>
<path d="M317,1556.17 L336,1557.49" stroke="#f4f4f4" stroke-width="2.4"/>
<path d="M160,1545 C154,1544 150,1540 151,1532 C152,1524 154,1518 155,1512" fill="none" stroke="#7a7a7a" stroke-width="2.4"/>
<path d="M160,1545 C154,1544 150,1540 151,1532 C152,1524 154,1518 155,1512" fill="none" stroke="#f4f4f4" stroke-width="1"/>
<path d="M177,1538 C170,1536 166,1528 165.5,1512" fill="none" stroke="#14244a" stroke-width="2.6" stroke-linecap="round"/>
<path d="M158.5,1519 L165.5,1509 L171.5,1519" fill="none" stroke="#14244a" stroke-width="2.6" stroke-linecap="round" stroke-linejoin="round"/>
<rect x="336" y="1549.5" width="29" height="16.5" rx="2" fill="#d8d8d8" stroke="#8e8e8e" stroke-width="0.9"/>
<rect x="348" y="1533" width="5.5" height="54" rx="2.5" fill="#d4d4d4" stroke="#8e8e8e" stroke-width="0.9"/>
<path d="M364.5,1551 L378,1549 L378,1568 L364.5,1566 Z" fill="#9a9a9a" stroke="#7a7a7a" stroke-width="0.8"/>
<rect x="378" y="1551" width="19.5" height="17" fill="#e98db1" stroke="#c86a90" stroke-width="0.8"/>
<rect x="378" y="1553" width="19.5" height="5" fill="#f2b1ca"/>
<path d="M397,1558 L404,1558 C420,1558 433,1562 433.5,1575 L433.5,1592 C433,1606 410,1604 392,1610 C380,1615 375,1625 372,1640" fill="none" stroke="#6e6e6e" stroke-width="2.6"/>
<path d="M397,1558 L404,1558 C420,1558 433,1562 433.5,1575 L433.5,1592 C433,1606 410,1604 392,1610 C380,1615 375,1625 372,1640" fill="none" stroke="#ffffff" stroke-width="1"/>
<path d="M432,1557 C428,1547 420,1542 405,1542" fill="none" stroke="#14244a" stroke-width="2.6" stroke-linecap="round"/>
<path d="M412,1536 L404,1542 L412,1548" fill="none" stroke="#14244a" stroke-width="2.6" stroke-linecap="round" stroke-linejoin="round"/>
</g>
<rect x="96" y="1378" width="345" height="258" rx="40" fill="none" stroke="#716c6c" stroke-width="2"/>
</svg>
<svg style="position:absolute;left:469px;top:1374px" width="350" height="263" viewBox="469 1374 350 263">
<defs><clipPath id="cF"><rect x="472" y="1377" width="344" height="257" rx="39"/></clipPath>
<linearGradient id="syrF" x1="0" y1="0" x2="1" y2="0"><stop offset="0" stop-color="#d4d4d4"/><stop offset="0.55" stop-color="#ffffff"/><stop offset="1" stop-color="#dcdcdc"/></linearGradient>
<linearGradient id="yelF" x1="0" y1="0" x2="1" y2="0"><stop offset="0" stop-color="#ece39a"/><stop offset="1" stop-color="#f8f3cf"/></linearGradient>
<radialGradient id="filF" cx="0.45" cy="0.4" r="0.6"><stop offset="0" stop-color="#fafafa"/><stop offset="1" stop-color="#dedede"/></radialGradient>
</defs>
<g clip-path="url(#cF)">
<rect x="469" y="1374" width="350" height="263" fill="#fff"/>
<!-- green -->
<path d="M732,1374 L819,1374 L819,1637 L469,1637 L469,1515 C485,1515 495,1512 502,1500 C512,1480 522,1465 537,1457 L560,1450 L732,1450 Z" fill="#9de4c6"/>
<path d="M469,1517 C480,1514 492,1512 500,1503 C510,1485 522,1466 537,1457" fill="none" stroke="#55c092" stroke-width="1.6"/>
<path d="M469,1581 C490,1582 515,1580 535,1575" fill="none" stroke="#55c092" stroke-width="1.6"/>
<path d="M760,1460 C780,1455 800,1451 819,1448 L819,1531 C805,1529 795,1522 790,1515 C782,1505 775,1495 760,1487 Z" fill="#8bd0b5"/>
<path d="M760,1460 C780,1455 800,1451 819,1448 M819,1531 C805,1529 795,1522 790,1515 C782,1505 775,1495 760,1487" fill="none" stroke="#55c092" stroke-width="1.6"/>
<path d="M728,1578 C740,1581 760,1583 819,1585" fill="none" stroke="#55c092" stroke-width="1.6"/>
<!-- body -->
<path d="M547.5,1374 C549,1385 553,1392 558,1396 C552,1420 540,1445 533,1470 C527,1492 524,1515 528,1540 C532,1560 540,1572 550,1578 C575,1588 610,1590 638,1586 C642,1584 644,1578 646,1574 C648,1580 650,1584 655,1586 C680,1590 700,1590 715,1586 C735,1578 748,1562 752,1545 C758,1520 760,1490 757,1468 C754,1450 745,1430 738,1412 L735,1400 C740,1394 744,1386 748,1374 Z" fill="#f2d4b8" stroke="#7a4b3c" stroke-width="1"/>
<path d="M560,1374 C559,1382 558,1390 558,1396" fill="none" stroke="#7a4b3c" stroke-width="1"/>
<path d="M730,1374 C731,1385 733,1393 736,1400" fill="none" stroke="#7a4b3c" stroke-width="1"/>
<!-- dressings -->
<g stroke="#ffffff" stroke-width="1.2">
<rect x="580.7" y="1378" width="37.5" height="149" rx="5" fill="#f1ece8" fill-opacity="0.93"/>
<rect x="617.3" y="1444" width="51" height="70" rx="4" fill="#fbece2" fill-opacity="0.95"/>
<rect x="595.7" y="1411.7" width="97" height="38.6" rx="5" fill="#f0ece9" fill-opacity="0.85"/>
<rect x="666.6" y="1430.2" width="38.5" height="98.7" rx="5" fill="#f0ebe7" fill-opacity="0.88"/>
<rect x="589.5" y="1504.2" width="95.6" height="38.6" rx="5" fill="#f0ebe7" fill-opacity="0.88"/>
</g>
<!-- catheter line -->
<path d="M594,1376 C596,1410 600,1440 604,1465 C607,1482 611,1492 618,1496" fill="none" stroke="#b8b8b8" stroke-width="2"/>
<path d="M594,1376 C596,1410 600,1440 604,1465 C607,1482 611,1492 618,1496" fill="none" stroke="#f8f8f8" stroke-width="0.8"/>
<!-- spiral -->
<path d="M642,1483 L642,1474 C642,1471 645,1470 648,1471 C655,1472 660,1477 660,1484 C660,1494 650,1499 640,1498 C628,1496 622,1488 623,1476 C625,1465 635,1458 648,1460 C660,1462 667,1472 666,1486 C665,1498 655,1503 640,1502 C628,1500 620,1492 620,1482" fill="none" stroke="#8c8c8c" stroke-width="2"/>
<path d="M642,1483 L642,1474 C642,1471 645,1470 648,1471 C655,1472 660,1477 660,1484 C660,1494 650,1499 640,1498 C628,1496 622,1488 623,1476 C625,1465 635,1458 648,1460 C660,1462 667,1472 666,1486 C665,1498 655,1503 640,1502 C628,1500 620,1492 620,1482" fill="none" stroke="#f6f6f6" stroke-width="0.8"/>
<!-- thin line top -->
<path d="M712,1376 L717.5,1398" stroke="#555" stroke-width="1.6"/>
<path d="M712,1376 L717.5,1398" stroke="#eee" stroke-width="0.6"/>
<!-- yellow connector -->
<g transform="rotate(-17 722 1412)">
<path d="M716,1398 L728,1398 L730,1410 L714,1410 Z" fill="url(#yelF)" stroke="#b8ae70" stroke-width="0.6"/>
<path d="M714,1410 L730,1410 L733,1428 L711,1428 Z" fill="url(#yelF)" stroke="#b8ae70" stroke-width="0.6"/>
</g>
<!-- white neck -->
<path d="M722,1428 L734,1426 L738,1434 L733,1438 L740,1446 L724,1448 L725,1440 L721,1436 Z" fill="#f7f7f7" stroke="#9a9a9a" stroke-width="0.7"/>
<!-- filter -->
<circle cx="738" cy="1473" r="25" fill="#000" fill-opacity="0.12"/>
<circle cx="735.2" cy="1471.2" r="25.5" fill="url(#filF)" stroke="#8a8a8a" stroke-width="1.2"/>
<circle cx="735.2" cy="1471.2" r="17.2" fill="#f1f1f1" stroke="#bdbdbd" stroke-width="1"/>
<!-- syringe -->
<g transform="rotate(-16.6 762 1555)">
<rect x="749.5" y="1496" width="13" height="14" fill="#d9d9d9" stroke="#888" stroke-width="0.8"/>
<rect x="749" y="1508" width="26" height="92" fill="url(#syrF)" stroke="#777" stroke-width="0.9"/>
<rect x="749" y="1508" width="26" height="9" fill="#6f7072" stroke="#2a3a6a" stroke-width="1"/>
<path d="M750,1524 L756,1524 M750,1537 L756,1537 M750,1550 L756,1550 M750,1563 L756,1563 M750,1576 L756,1576" stroke="#222" stroke-width="1.3"/>
<rect x="739" y="1599" width="46" height="5" fill="#f6f6f6" stroke="#888" stroke-width="0.8"/>
<rect x="752" y="1604" width="20" height="14" fill="url(#syrF)" stroke="#888" stroke-width="0.8"/>
<rect x="743" y="1617" width="38" height="4.5" fill="#f6f6f6" stroke="#888" stroke-width="0.8"/>
</g>
</g>
<rect x="471" y="1376" width="346" height="259" rx="40" fill="none" stroke="#716c6c" stroke-width="2"/>
</svg>


<div id="vg">Vorgehen:</div>
<div id="txt">
<div class="r"><span class="n">1<span class="q">.</span></span>Lagerung<span class="q">:</span> Patient<span class="q">:</span>in sitzt auf der OP-Lafette<span class="q">,</span><br>Schultern fallen lassen und Katzenbuckel machen</div>
<div class="r"><span class="n">2<span class="q">.</span></span>Auffinden der Punktionsstelle <span class="qo">(</span>je nach gewünschter<br>Ausbreitungshöhe<span class="q">)</span></div>
<div class="r"><span class="n">3<span class="q">.</span></span>Material vorbereiten</div>
<div class="r"><span class="n">4<span class="q">.</span></span>4-malige Wisch-Desinfektion der Haut</div>
<div class="r"><span class="n">5<span class="q">.</span></span>Aufziehen der Medikamente</div>
<div class="r"><span class="n">6<span class="q">.</span></span>Lochtuch aufbringen</div>
<div class="r"><span class="n"><b>7<span class="q">.</span></b></span><b>Infiltrationsanästhesie</b> der Haut subkutan und<br>interspinal <span class="qo">(</span>z<span class="q">.</span>B<span class="q">.</span> <span class="dg">1–2</span> ml Mepivacain <span class="dg">1</span> <span class="pc">%</span><span class="q">)</span></div>
<div class="r"><span class="n">8<span class="q">.</span></span>Mediane oder paramediane Punktion</div>
<div class="r"><span class="n">9<span class="q">.</span></span>Mit beiden Händen Periduralkanüle bis ins Lig<span class="q">.</span><br>interspinale vorschieben <span class="qo">(</span>ca<span class="q">.</span> 2–3 cm<span class="q">)</span></div>
<div class="r"><span class="n">10<span class="q">.</span></span>Entfernen des Mandrins</div>
<div class="r"><span class="n"><b>11<span class="q">.</span></b></span><b>Loss-of-Resistance-Technik<span class="q">:</span></b> Aufsetzen einer Spritze<br>mit NaCl <span class="dg">0<span class="q">,</span>9</span> <span class="pc">%</span><span class="q">,</span> Periduralkanüle unter gleichmäßigem<br>Druck weiter vorschieben<span class="q">,</span> bis es zum plötzlichen<br>Widerstandsverlust kommt <svg width="27" height="12" viewBox="0 0 27 12" style="vertical-align:1px;margin:0 4px 0 1px"><path d="M0.5,6 L25.5,6 M20,1.2 L25.5,6 L20,10.8" fill="none" stroke="#000" stroke-width="1.7"/></svg> Abrupt leichte Injektion<br>möglich <span class="qo">(</span>im Periduralraum herrscht ein Unterdruck<span class="q">)</span></div>
<div class="r"><span class="n">12<span class="q">.</span></span>Aspirationskontrolle</div>
<div class="r"><span class="n">13<span class="q">.</span></span>Fixieren der Periduralkanüle in ihrer Position <span class="qo">(</span>mit der<br>nicht-führenden Hand<span class="q">)</span> und Einführen des<br>Periduralkatheters<span class="q">,</span> bis der Katheter 3 bis 5 cm über<br>die Spitze hinaus im Periduralraum liegt <span class="qo">(</span>die<br>gewünschte Eindringtiefe kann anhand der<br>Strichmarkierungen auf der Periduralkanüle und dem<br>Periduralkatheter bestimmt werden<span class="q">)</span></div>
<div class="r"><span class="n">14<span class="q">.</span></span>Vorsichtiges Entfernen der Periduralkanüle unter<br>permanenter Fixierung des Periduralkatheters</div>
<div class="r"><span class="n">15<span class="q">.</span></span>Ggf<span class="q">.</span> Tunnelung des Katheters <span class="qo">(</span>z<span class="q">.</span>B<span class="q">.</span> mit <span class="dg">16</span>G-<br>Venenverweilkatheter<span class="q">)</span><span class="q">,</span> um das Infektionsrisiko zu<br>senken bei längerer Liegedauer <span class="qo">(</span>&gt;48 Std<span class="q">.</span><span class="q">)</span></div>
<div class="r"><span class="n">16<span class="q">.</span></span>Anschluss des Filtersystems</div>
<div class="r"><span class="n">17<span class="q">.</span></span>Erneute Aspirationskontrolle</div>
<div class="r"><span class="n">18<span class="q">.</span></span>Lagekontrolle des Periduralkatheters durch Gabe<br>einer spinalen Testdosis <span class="qo">(</span>s<span class="q">.</span>u<span class="q">.</span><span class="q">)</span> zum Ausschluss einer<br>intrathekalen Fehllage</div>
<div class="r"><span class="n">19<span class="q">.</span></span>Gabe der Periduraldosis <span class="g"><span class="qo">(</span>z<span class="q">.</span>B<span class="q">.</span> Ropivacain <span class="dg">0<span class="q">,</span>75</span> <span class="pc">%</span><span class="q">,</span></span><br><span class="g">Injektion von 15–25 ml bei 7<span class="q">,</span>5 mg/ml<span class="q">)</span></span></div>
<div class="r"><span class="n">20<span class="q">.</span></span>Sicheres Fixieren des Katheters</div>
</div>

<div class="foot"></div>
<svg style="position:absolute;left:10px;top:1672px" width="70" height="58" viewBox="10 1672 70 58">
<path d="M20,1700.5 C16,1694 17,1683 26,1679.5 C33,1677 40,1680 43.75,1684.5 C47.5,1680 54.5,1677 61.5,1679.5 C70.5,1683 71.5,1694 67.5,1700.5 L43.75,1724.5 Z" fill="#fff" stroke="#000" stroke-width="2.2" stroke-linejoin="miter"/>
<path d="M16,1700.5 L28.5,1700.5 L30.8,1695.5 L32.6,1700.5 L37.4,1686.5 L43.7,1707.5 L50,1692.5 L54,1700.5 L72,1700.5" fill="none" stroke="#000" stroke-width="2.2" stroke-linejoin="miter"/>
</svg>
<div class="pn">107</div>
<div class="vbar"></div>
</body></html>
